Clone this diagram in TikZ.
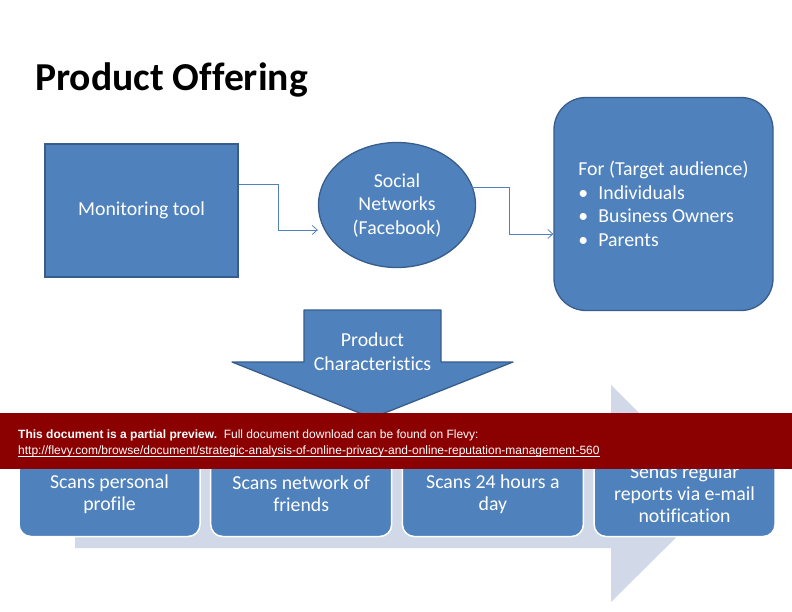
\documentclass[tikz,border=0pt]{standalone}
\usepackage{fontspec}
\setmainfont{Carlito}[Ligatures=NoCommon]
\newfontfamily\bannerfont{Liberation Sans}
\usetikzlibrary{shapes.geometric,arrows.meta}
\definecolor{boxblue}{HTML}{4F81BD}
\definecolor{boxedge}{HTML}{385D8A}
\definecolor{paleblue}{HTML}{D1D8E8}
\definecolor{bannerred}{HTML}{8B0000}

\begin{document}
\begin{tikzpicture}[x=1pt, y=-1pt, >={Straight Barb[length=5pt,width=9pt]},
		font=\fontsize{19.8}{23.5}\selectfont,
		bluebox/.style={draw=boxedge, line width=1.3pt, fill=boxblue, text=white, align=center, inner sep=0pt},
		link/.style={->, draw=boxblue, line width=0.8pt},
		stage/.style={bluebox, draw=white, line width=1.5pt, rounded corners=12pt, minimum width=181pt, minimum height=85pt, font=\fontsize{19.8}{22}\selectfont}]
		\useasboundingbox (0,0) rectangle (792,612);
		% title
		\node[anchor=base west, inner sep=0pt, font=\bfseries\fontsize{39.6}{44}\selectfont] (title) at (35,91) {Product Offering};
		% top row
		\node[bluebox, minimum width=193pt, minimum height=133pt] (tool) at (141.5,210.5) {Monitoring tool};
		\node[bluebox, ellipse, minimum width=157pt, minimum height=125pt] (social) at (397,205) {Social\\Networks\\(Facebook)};
		\node[bluebox, rounded corners=32pt, minimum width=219pt, minimum height=213pt, align=left] (target) at (663.5,204) {For (Target audience)\\
			\makebox[20pt][l]{\textbullet}Individuals\\
			\makebox[20pt][l]{\textbullet}Business Owners\\
			\makebox[20pt][l]{\textbullet}Parents};
		% connectors
		\draw[link] ([yshift=26.5pt]tool.east) -- ++(40,0) |- ([yshift=-25pt]social.west);
		\draw[link] ([xshift=-12pt,yshift=18pt]social.east) -- ++(45,0) |- ([yshift=-30pt]target.west);
		% background arrow
		\fill[paleblue] (75,440) -- (611,440) -- (611,385) -- (720,494) -- (611,602) -- (611,548) -- (75,548) -- cycle;
		% characteristics
		\foreach \txt [count=\i] in {{Scans personal\\profile}, {Scans network of\\friends}, {Scans 24 hours a\\day}, {Sends regular\\reports via e-mail\\notification}} {
			\node[stage] (char\i) at ({109.5+191.7*(\i-1)},494) {\txt};
		}
		% down arrow
		\filldraw[fill=boxblue, draw=boxedge, line width=1.3pt, line join=round] (304,310) -- (441,310) -- (441,362) -- (513,362) -- (372,418) -- (232,362) -- (304,362) -- cycle;
		\node[text=white, align=center, inner sep=0pt] (prodchar) at (372.5,351.5) {Product\\Characteristics};
		% preview banner
		\fill[bannerred] (0,413) rectangle (792,469);
		\node[anchor=base west, inner sep=0pt, text=white, font=\bannerfont\fontsize{12}{14}\selectfont] (note) at (18,438) {\textbf{This document is a partial preview.}\ \ Full document download can be found on Flevy:};
		\node[anchor=base west, inner sep=0pt, text=white, font=\bannerfont\fontsize{12}{14}\selectfont] (url) at (18,454) {http://flevy.com/browse/document/strategic-analysis-of-online-privacy-and-online-reputation-management-560};
		\draw[white, line width=0.6pt] ([yshift=-1.8pt]url.base west) -- ([yshift=-1.8pt]url.base east);
	\end{tikzpicture}
\end{document}
